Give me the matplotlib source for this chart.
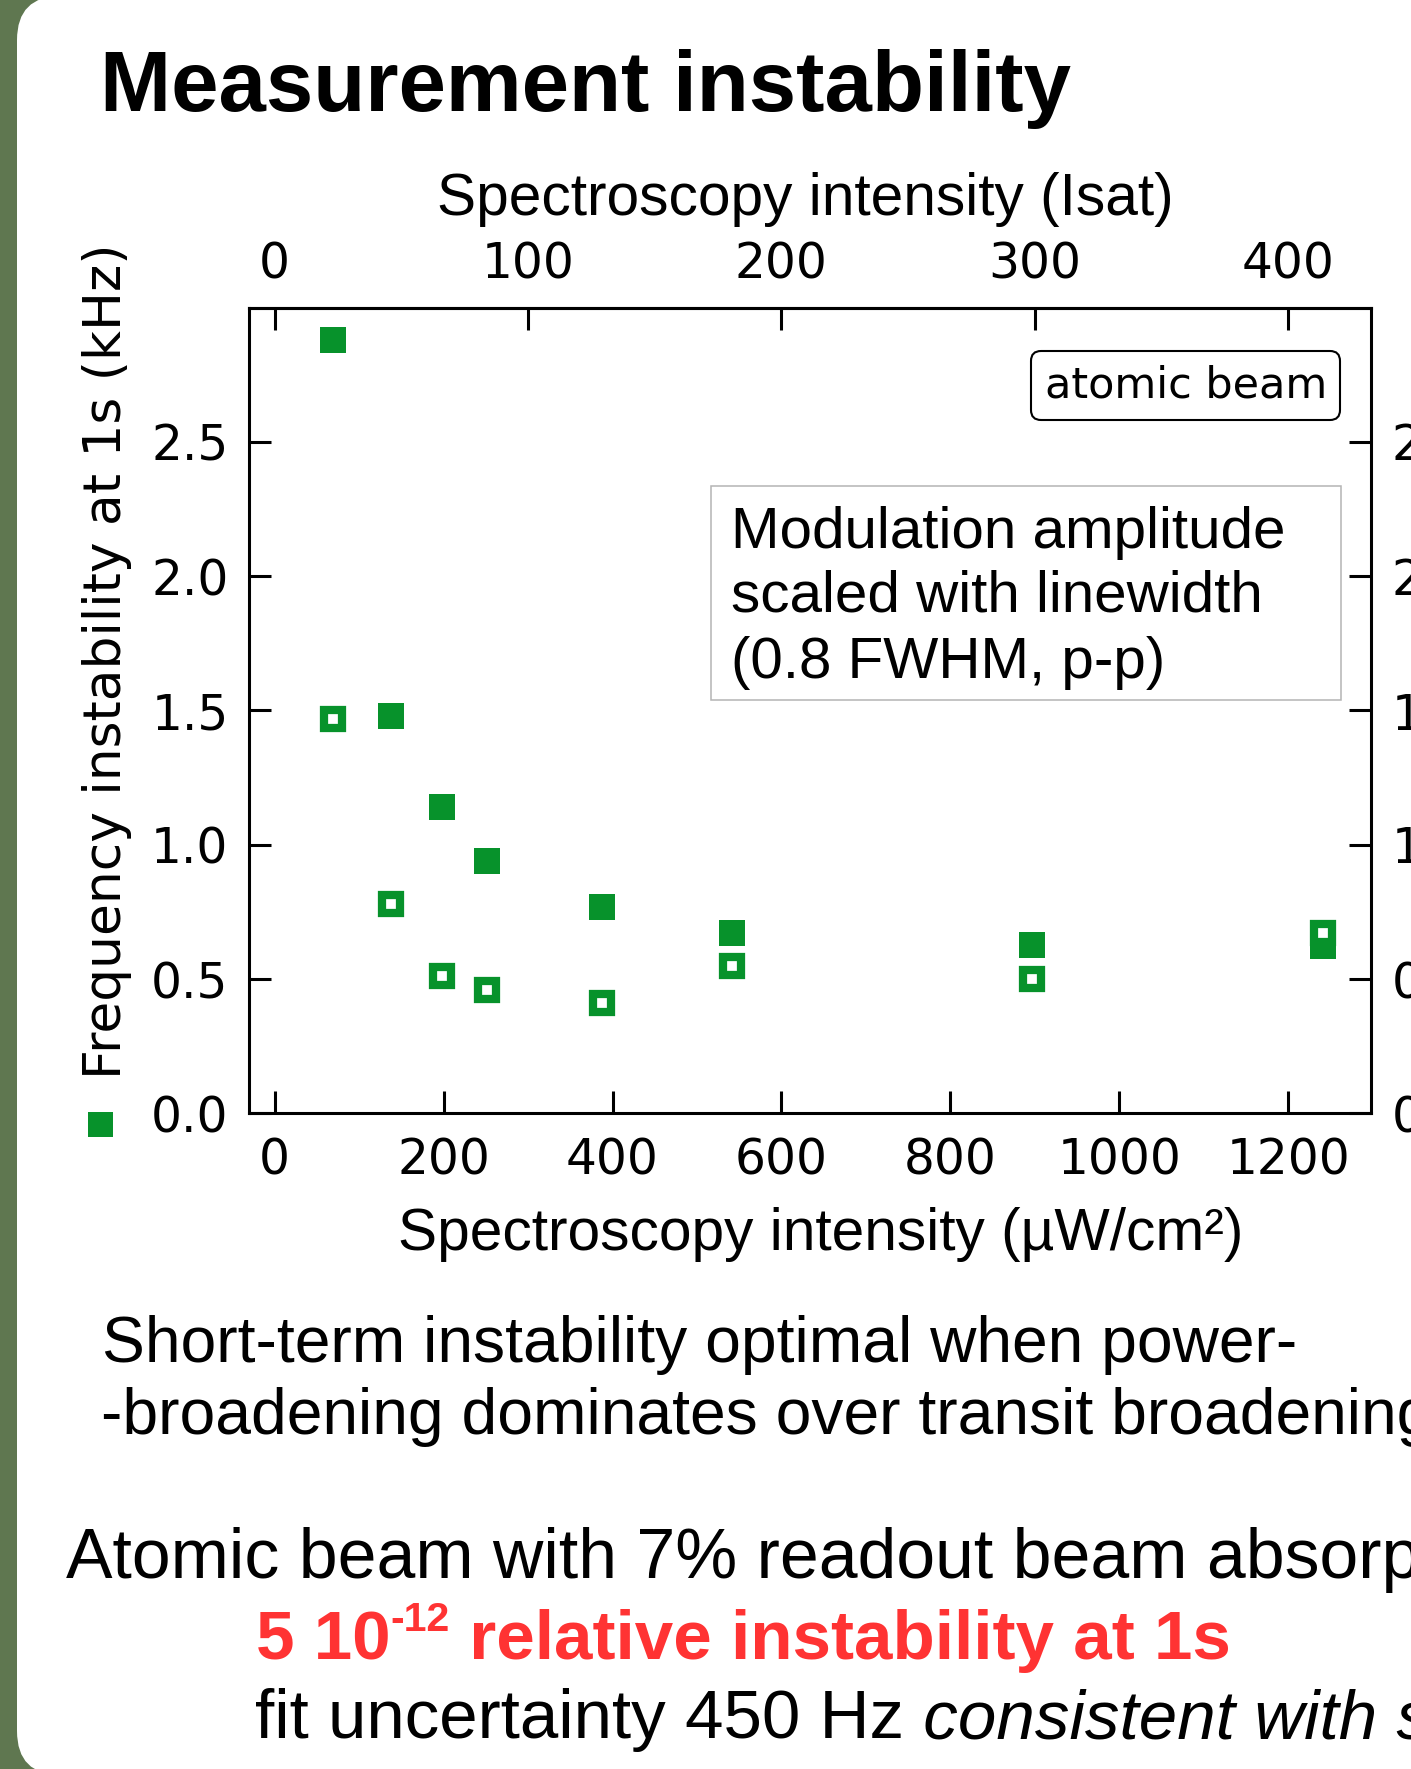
import matplotlib
matplotlib.use('Agg')
import matplotlib.pyplot as plt
from matplotlib.patches import FancyBboxPatch, Rectangle
from matplotlib.transforms import IdentityTransform

# ---------------- data ----------------
intensity_uW = [69, 138, 198, 251, 388, 542, 897, 1241]
instab_filled = [2.88, 1.48, 1.14, 0.94, 0.77, 0.67, 0.625, 0.624]
instab_open = [1.47, 0.78, 0.51, 0.46, 0.41, 0.55, 0.50, 0.67]
xticks_uW = [0, 200, 400, 600, 800, 1000, 1200]
xticks_isat = [0, 100, 200, 300, 400]
yticks = [0.0, 0.5, 1.0, 1.5, 2.0, 2.5]
UW_PER_ISAT = 3.0

GREEN = '#07922b'
RED = '#ff3333'
ARIAL = 'Liberation Sans'

W, H = 1411, 1769
DPI = 100
fig = plt.figure(figsize=(W / DPI, H / DPI), dpi=DPI)
fig.patch.set_facecolor('#5f7750')


def fx(px):
    return px / W


def fy(py):
    return 1 - py / H


# white slide card with rounded corner
card = FancyBboxPatch((17, -6), 1600, 1779,
                      boxstyle='round,pad=0,rounding_size=44',
                      transform=IdentityTransform(), facecolor='white',
                      edgecolor='none', zorder=-5)
fig.add_artist(card)

# title
fig.text(fx(100), fy(111), 'Measurement instability', fontsize=61.4,
         fontweight='bold', family=ARIAL, va='baseline', ha='left')

# ---------------- axes ----------------
x0, x1, y0, y1 = 249.3, 1371, 307.7, 1113.3
ax = fig.add_axes([fx(x0), fy(y1), (x1 - x0) / W, (y1 - y0) / H])
ax.set_xlim(-30, 1298)
ax.set_ylim(0, 3.0)

ax.plot(intensity_uW, instab_filled, linestyle='none', marker='s', ms=19.4,
        mfc=GREEN, mec=GREEN, mew=0, zorder=3)
ax.plot(intensity_uW, instab_open, linestyle='none', marker='s', ms=13.5,
        mfc='white', mec=GREEN, mew=5.94, zorder=4)

ax.set_xticks(xticks_uW)
ax.set_yticks(yticks)
for s in ax.spines.values():
    s.set_linewidth(2.2)
ax.tick_params(axis='both', direction='in', length=15.8, width=2.2,
               labelsize=35, right=True, labelright=True)
ax.tick_params(axis='x', pad=16.5)
ax.tick_params(axis='y', pad=15)

secax = ax.secondary_xaxis('top', functions=(lambda v: v / UW_PER_ISAT,
                                             lambda v: v * UW_PER_ISAT))
secax.set_xticks(xticks_isat)
secax.tick_params(direction='in', length=15.8, width=2.2, labelsize=35, pad=14)
secax.spines['top'].set_linewidth(2.2)

# axis labels
fig.text(fx(805), fy(215), 'Spectroscopy intensity (Isat)', fontsize=42.2,
         family=ARIAL, ha='center', va='baseline')
fig.text(fx(821), fy(1250), 'Spectroscopy intensity (µW/cm²)', fontsize=42.2,
         family=ARIAL, ha='center', va='baseline')
fig.text(fx(107.5), fy(661), 'Frequency instability at 1s (kHz)', fontsize=37.3,
         rotation=90, ha='center', va='center')
fig.add_artist(Rectangle((88.3, H - 1137.3), 25, 25, transform=IdentityTransform(),
                         facecolor=GREEN, edgecolor='none'))

# annotation boxes
fig.add_artist(Rectangle((711, H - 700), 630, 214, transform=IdentityTransform(),
                         facecolor='white', edgecolor='#b4b4b4', linewidth=1.1,
                         zorder=5))
for txt, base in [('Modulation amplitude', 548.5),
                  ('scaled with linewidth', 612),
                  ('(0.8 FWHM, p-p)', 677.6)]:
    fig.text(fx(731), fy(base), txt, fontsize=42, family=ARIAL,
             ha='left', va='baseline', zorder=6)

fig.add_artist(FancyBboxPatch((1031, H - 420), 309, 69,
                              boxstyle='round,pad=0,rounding_size=10',
                              transform=IdentityTransform(), facecolor='white',
                              edgecolor='black', linewidth=1.5, zorder=5))
fig.text(fx(1186), fy(397), 'atomic beam', fontsize=31, ha='center',
         va='baseline', zorder=6)

# ---------------- text below ----------------
fig.text(fx(102), fy(1362), 'Short-term instability optimal when power-',
         fontsize=46.2, family=ARIAL, ha='left', va='baseline')
fig.text(fx(101), fy(1434), '-broadening dominates over transit broadening',
         fontsize=46.2, family=ARIAL, ha='left', va='baseline')
fig.text(fx(66), fy(1578), 'Atomic beam with 7% readout beam absorption',
         fontsize=50.2, family=ARIAL, ha='left', va='baseline')

renderer = fig.canvas.get_renderer()


def rich_line(parts, x_px, base_px):
    x = x_px
    for text, kw, dy in parts:
        t = fig.text(fx(x), fy(base_px - dy), text, ha='left', va='baseline',
                     family=ARIAL, **kw)
        bb = t.get_window_extent(renderer=renderer)
        x = bb.x1


rich_line([('5 10', dict(fontsize=49.8, fontweight='bold', color=RED), 0),
           ('-12', dict(fontsize=29.5, fontweight='bold', color=RED), 28),
           (' relative instability at 1s', dict(fontsize=49.8, fontweight='bold',
                                                color=RED), 0)],
          256, 1659)
rich_line([('fit uncertainty 450 Hz', dict(fontsize=49.8), 0),
           (' consistent with s', dict(fontsize=49.8, style='italic'), 0)],
          255, 1738)

fig.savefig('out.png', dpi=DPI)
